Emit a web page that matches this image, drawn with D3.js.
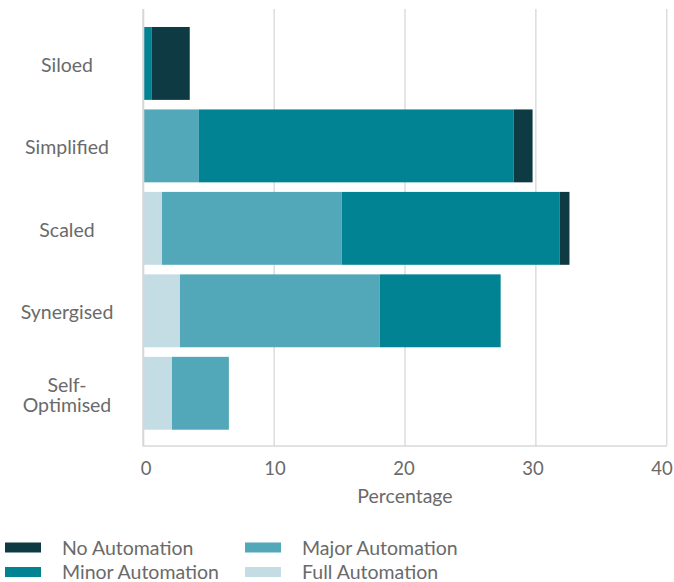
<!DOCTYPE html>
<html>
<head>
<meta charset="utf-8">
<script src="https://cdn.jsdelivr.net/npm/d3@7/dist/d3.min.js"></script>
<style>
  html, body { margin: 0; padding: 0; background: #ffffff; }
  svg { display: block; font-family: Lato, "Open Sans", sans-serif; }
</style>
</head>
<body>
<svg id="chart" width="674" height="582"></svg>
<script>
// Maturity levels (top to bottom) and the share of respondents per automation level
const categories = ["Siloed", "Simplified", "Scaled", "Synergised", "Self-Optimised"];
const seriesNames = ["Full Automation", "Major Automation", "Minor Automation", "No Automation"];
const fullAutomation  = [0,    0,    1.43, 2.8,  2.19];
const majorAutomation = [0,    4.25, 13.74, 15.27, 4.35];
const minorAutomation = [0.65, 24.05, 16.64, 9.24, 0];
const noAutomation    = [2.9,  1.45, 0.76, 0,    0];
const xTicks = [0, 10, 20, 30, 40];
const legendOrder = ["No Automation", "Major Automation", "Minor Automation", "Full Automation"];

const colors = {
  "No Automation": "#0e3a44",
  "Minor Automation": "#028393",
  "Major Automation": "#52a8b9",
  "Full Automation": "#c4dde4"
};

const rows = categories.map((c, i) => ({
  category: c,
  "Full Automation": fullAutomation[i],
  "Major Automation": majorAutomation[i],
  "Minor Automation": minorAutomation[i],
  "No Automation": noAutomation[i]
}));

const svg = d3.select("#chart");
const textColor = "#6a6a6a";
const fontSize = "19.5px";

const plot = { left: 143.3, right: 666.7, top: 9, bottom: 446 };

const x = d3.scaleLinear().domain([0, 40]).range([plot.left, plot.right]);
// tick labels sit slightly inside the gridlines
const xLabel = d3.scaleLinear().domain([0, 40]).range([145.5, 661.5]);
const y = d3.scaleBand().domain(categories).range([22.2, 434.5])
  .paddingInner(0.116).paddingOuter(0.058);

// gridlines
svg.append("g")
  .selectAll("line")
  .data(xTicks.filter(t => t > 0))
  .join("line")
  .attr("x1", d => x(d)).attr("x2", d => x(d))
  .attr("y1", plot.top).attr("y2", plot.bottom)
  .attr("stroke", "#dcdcdc").attr("stroke-width", 1.5);

// stacked bars
const stack = d3.stack().keys(seriesNames);
const layers = stack(rows);

svg.append("g")
  .selectAll("g")
  .data(layers)
  .join("g")
  .attr("fill", d => colors[d.key])
  .selectAll("rect")
  .data(d => d.filter(p => p[1] - p[0] > 0))
  .join("rect")
  .attr("x", d => x(d[0]))
  .attr("y", d => y(d.data.category))
  .attr("width", d => x(d[1]) - x(d[0]))
  .attr("height", y.bandwidth());

// axis frame (left and bottom)
svg.append("line")
  .attr("x1", plot.left).attr("x2", plot.left)
  .attr("y1", plot.top).attr("y2", plot.bottom)
  .attr("stroke", "#d6d6d6").attr("stroke-width", 2);
svg.append("line")
  .attr("x1", plot.left - 1).attr("x2", plot.right)
  .attr("y1", plot.bottom).attr("y2", plot.bottom)
  .attr("stroke", "#d9d9d9").attr("stroke-width", 1.5);

// x tick labels
const xAxis = svg.append("g")
  .attr("transform", `translate(0, ${plot.bottom})`)
  .call(d3.axisBottom(xLabel).tickValues(xTicks).tickSize(0).tickPadding(16));
xAxis.select(".domain").remove();
xAxis.selectAll("text")
  .attr("fill", textColor)
  .style("font-size", "18.5px")
  .style("font-family", "Lato, 'Open Sans', sans-serif");

// x axis title
svg.append("text")
  .attr("x", 405).attr("y", 503)
  .attr("text-anchor", "middle")
  .attr("fill", textColor)
  .style("font-size", fontSize)
  .text("Percentage");

// category labels, the hyphenated one wrapped onto two lines
const catLabels = svg.append("g");
categories.forEach(c => {
  const cy = y(c) + y.bandwidth() / 2;
  const cut = c.indexOf("-");
  const parts = cut >= 0 ? [c.slice(0, cut + 1), c.slice(cut + 1)] : [c];
  const lh = 20.5;
  parts.forEach((p, i) => {
    catLabels.append("text")
      .attr("text-anchor", "middle")
      .attr("fill", textColor)
      .style("font-size", fontSize)
      .attr("x", 67)
      .attr("y", cy + 8.5 + (i - (parts.length - 1) / 2) * lh)
      .text(p);
  });
});

// legend
const legend = svg.append("g");
legendOrder.forEach((name, i) => {
  const col = i % 2, row = Math.floor(i / 2);
  const lx = 5 + col * 240, ly = 547.5 + row * 24.5;
  legend.append("rect")
    .attr("x", lx).attr("y", ly - 5)
    .attr("width", 36).attr("height", 10)
    .attr("fill", colors[name]);
  legend.append("text")
    .attr("x", lx + 57).attr("y", ly + 7)
    .attr("fill", textColor)
    .style("font-size", fontSize)
    .text(name);
});
</script>
</body>
</html>
